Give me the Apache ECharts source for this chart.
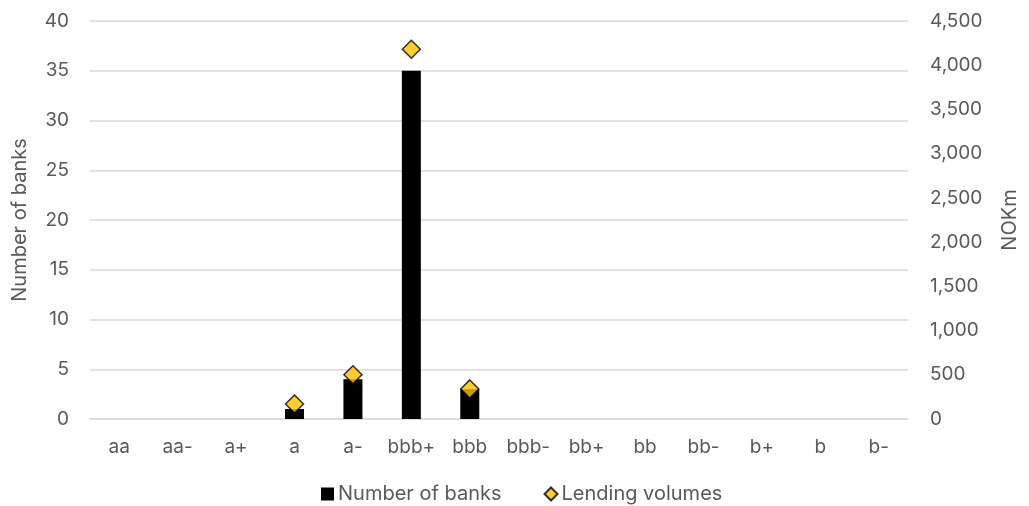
<!DOCTYPE html>
<html>
<head>
<meta charset="utf-8">
<script src="https://cdn.jsdelivr.net/npm/echarts@6/dist/echarts.min.js"></script>
<style>
  html, body { margin: 0; padding: 0; background: #fff; }
  #chart { width: 1029px; height: 506px; }
</style>
</head>
<body>
<div id="chart"></div>
<script>
// Rating grades on the category axis
const ratings = ['aa', 'aa-', 'a+', 'a', 'a-', 'bbb+', 'bbb', 'bbb-', 'bb+', 'bb', 'bb-', 'b+', 'b', 'b-'];
// Number of banks per rating grade (left axis)
const numberOfBanks = [null, null, null, 1, 4, 35, 3, null, null, null, null, null, null, null];
// Lending volumes in NOKm per rating grade (right axis)
const lendingVolumes = [null, null, null, 170, 500, 4180, 340, null, null, null, null, null, null, null];

const textColor = '#595959';
const gridColor = '#d9d9d9';
const font = 'Inter, "Noto Sans", sans-serif';

const chart = echarts.init(document.getElementById('chart'));
chart.setOption({
  animation: false,
  textStyle: { fontFamily: font },
  grid: { left: 90, right: 121, top: 21, bottom: 87 },
  legend: {
    top: 482,
    left: 321,
    itemGap: 42,
    itemWidth: 13,
    itemHeight: 13,
    padding: 0,
    textStyle: { color: textColor, fontSize: 20, lineHeight: 24, fontFamily: font, padding: [0, 0, 0, -1] },
    data: [
      { name: 'Number of banks', icon: 'rect' },
      { name: 'Lending volumes', icon: 'diamond' }
    ]
  },
  xAxis: {
    type: 'category',
    data: ratings,
    axisLine: { show: true, lineStyle: { color: gridColor, width: 1.5 } },
    axisTick: { show: false },
    axisLabel: { color: textColor, fontSize: 19, margin: 19, interval: 0, fontFamily: font }
  },
  yAxis: [
    {
      type: 'value',
      min: 0, max: 40, interval: 5,
      name: 'Number of banks',
      nameLocation: 'middle',
      nameGap: 60,
      nameTextStyle: { color: textColor, fontSize: 20, fontFamily: font },
      axisLine: { show: false },
      axisTick: { show: false },
      axisLabel: { color: textColor, fontSize: 19, margin: 21, fontFamily: font },
      splitLine: { lineStyle: { color: gridColor, width: 1.5 } }
    },
    {
      type: 'value',
      min: 0, max: 4500, interval: 500,
      name: 'NOKm',
      nameLocation: 'middle',
      nameGap: 92,
      nameTextStyle: { color: textColor, fontSize: 20, fontFamily: font },
      axisLine: { show: false },
      axisTick: { show: false },
      axisLabel: {
        color: textColor, fontSize: 19, margin: 22, fontFamily: font,
        formatter: v => v.toLocaleString('en-US')
      },
      splitLine: { show: false }
    }
  ],
  series: [
    {
      name: 'Number of banks',
      type: 'bar',
      yAxisIndex: 0,
      data: numberOfBanks,
      barWidth: 19,
      itemStyle: { color: '#000000' }
    },
    {
      name: 'Lending volumes',
      type: 'scatter',
      yAxisIndex: 1,
      data: lendingVolumes,
      symbol: 'diamond',
      symbolSize: 18,
      itemStyle: { color: '#ffc000', borderColor: '#000000', borderWidth: 1.5 }
    }
  ]
});
</script>
</body>
</html>
